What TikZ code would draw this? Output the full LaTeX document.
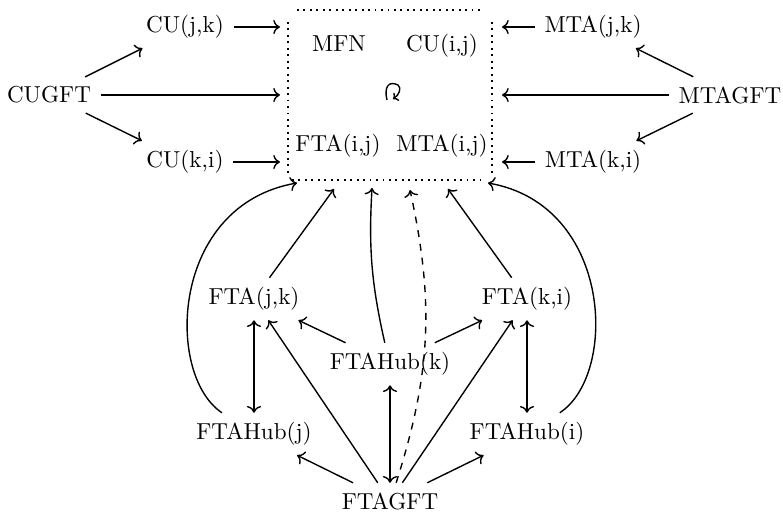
\documentclass[tikz,border=0pt]{standalone}
\usetikzlibrary{arrows.meta}
\begin{document}
\begin{tikzpicture}[x=0.4329pt,y=-0.4329pt,
  lbl/.style={inner sep=4pt},
  arr/.style={-{Computer Modern Rightarrow}, line width=0.6pt},
  darr/.style={{Computer Modern Rightarrow}-{Computer Modern Rightarrow}, line width=0.6pt},
  dotline/.style={dotted, line width=0.8pt},
  dsh/.style={dashed, -{Computer Modern Rightarrow}, line width=0.6pt}]
\useasboundingbox (0,0) rectangle (783,512);
% dotted box
\coordinate (tl) at (297,10); \coordinate (tr) at (480,10);
\coordinate (lt) at (288,22); \coordinate (lb) at (288,174);
\coordinate (rt) at (492,22); \coordinate (rb) at (492,174);
\coordinate (bl) at (292,180); \coordinate (br) at (486,180);
\draw[dotline] (tl) -- (tr);
\draw[dotline] (lt) -- (lb);
\draw[dotline] (rt) -- (rb);
\draw[dotline] (bl) -- (br);
% inside
\node[lbl, anchor=base] (mfn) at (339,52) {MFN};
\node[lbl, anchor=base] (cuij) at (442,52) {CU(i,j)};
\node[lbl, anchor=base] (ftaij) at (338,151) {FTA(i,j)};
\node[lbl, anchor=base] (mtaij) at (442,151) {MTA(i,j)};
\coordinate (c0) at (387,100);
\coordinate (c1) at (398,85);
\coordinate (c2) at (393,99);
\draw[line width=0.6pt, -{Computer Modern Rightarrow[length=2pt]}] (c0) .. controls (384,88) and (388,80) .. (c1) .. controls (402,88) and (399,95) .. (c2);
% left
\node[lbl] (cujk) at (185,27) {CU(j,k)};
\node[lbl] (cugft) at (49,95) {CUGFT};
\node[lbl] (cuki) at (185,162) {CU(k,i)};
\coordinate (bl1) at (280,27);
\coordinate (bl2) at (280,95);
\coordinate (bl3) at (280,162);
\draw[arr] (cujk) -- (bl1);
\draw[arr] (cugft) -- (bl2);
\draw[arr] (cuki) -- (bl3);
\draw[arr] (cugft) -- (cujk);
\draw[arr] (cugft) -- (cuki);
% right
\node[lbl] (mtajk) at (593,27) {MTA(j,k)};
\node[lbl] (mtagft) at (730,95) {MTAGFT};
\node[lbl] (mtaki) at (593,162) {MTA(k,i)};
\coordinate (br1) at (502,27);
\coordinate (br2) at (502,95);
\coordinate (br3) at (502,162);
\draw[arr] (mtajk) -- (br1);
\draw[arr] (mtagft) -- (br2);
\draw[arr] (mtaki) -- (br3);
\draw[arr] (mtagft) -- (mtajk);
\draw[arr] (mtagft) -- (mtaki);
% lower
\node[lbl] (ftajk) at (254,299) {FTA(j,k)};
\node[lbl] (ftaki) at (527,299) {FTA(k,i)};
\node[lbl] (fhk) at (390,364) {FTAHub(k)};
\node[lbl] (fhj) at (254,434) {FTAHub(j)};
\node[lbl] (fhi) at (527,434) {FTAHub(i)};
\node[lbl] (ftagft) at (390,501) {FTAGFT};
\coordinate (bt1) at (334,189);
\coordinate (bt2) at (448,189);
\coordinate (bt3) at (372,188);
\coordinate (bt4) at (410,190);
\coordinate (bc1) at (297,183);
\coordinate (bc2) at (488,183);
\draw[arr] (ftajk) -- (bt1);
\draw[arr] (ftaki) -- (bt2);
\draw[arr] (fhk) to[bend left=8] (bt3);
\draw[dsh] (ftagft) to[bend right=15] (bt4);
\draw[arr] (fhj) .. controls (165,375) and (170,205) .. (bc1);
\draw[arr] (fhi) .. controls (618,375) and (613,205) .. (bc2);
\draw[arr] (fhk) -- (ftajk);
\draw[arr] (fhk) -- (ftaki);
\draw[arr] (ftagft) -- (ftajk);
\draw[arr] (ftagft) -- (ftaki);
\draw[arr] (ftagft) -- (fhj);
\draw[arr] (ftagft) -- (fhi);
\draw[darr] (ftagft) -- (fhk);
\draw[darr] (ftajk) -- (fhj);
\draw[darr] (ftaki) -- (fhi);
\end{tikzpicture}
\end{document}
